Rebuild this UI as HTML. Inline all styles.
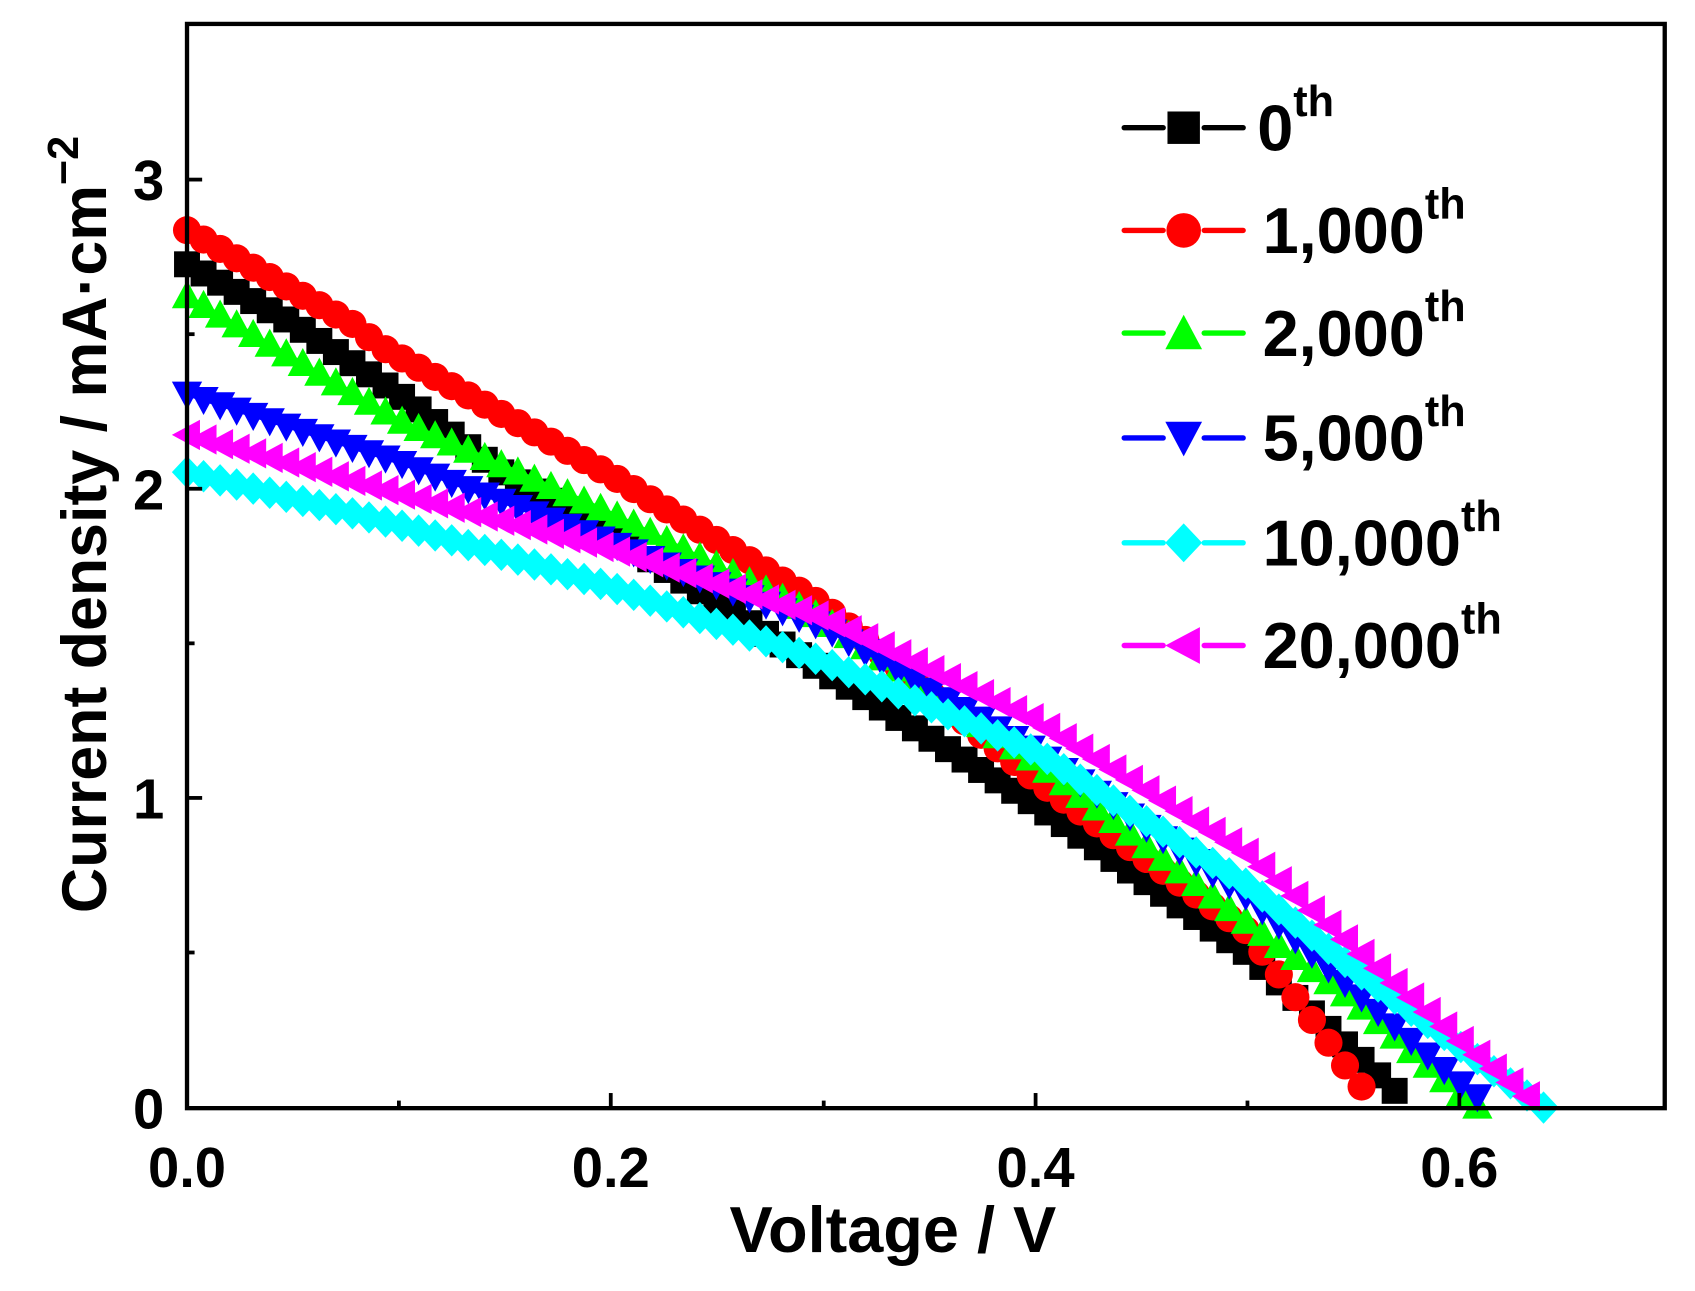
<!DOCTYPE html>
<html><head><meta charset="utf-8"><style>html,body{margin:0;padding:0;background:#fff}svg{display:block}</style></head>
<body>
<svg id="s" width="1695" height="1291" viewBox="0 0 1568 1194" xmlns="http://www.w3.org/2000/svg" font-family="Liberation Sans, Arial, sans-serif" font-weight="bold">
<rect width="1568" height="1194" fill="#fff"/>
<g id="data"></g>
<rect x="173" y="22" width="1367" height="1003" fill="none" stroke="#000" stroke-width="4"/>
<g stroke="#000" stroke-width="3.5">
<line x1="565" y1="1025" x2="565" y2="1011"/><line x1="958" y1="1025" x2="958" y2="1011"/><line x1="1350" y1="1025" x2="1350" y2="1011"/>
<line x1="369" y1="1025" x2="369" y2="1018"/><line x1="762" y1="1025" x2="762" y2="1018"/><line x1="1154" y1="1025" x2="1154" y2="1018"/>
<line x1="173" y1="738" x2="187" y2="738"/><line x1="173" y1="452" x2="187" y2="452"/><line x1="173" y1="166" x2="187" y2="166"/>
<line x1="173" y1="881" x2="180" y2="881"/><line x1="173" y1="595" x2="180" y2="595"/><line x1="173" y1="309" x2="180" y2="309"/>
</g>
<g font-size="52" text-anchor="middle">
<text x="173" y="1098">0.0</text><text x="565" y="1098">0.2</text><text x="958" y="1098">0.4</text><text x="1350" y="1098">0.6</text>
</g>
<g font-size="52" text-anchor="end">
<text x="152" y="1044">0</text><text x="152" y="757">1</text><text x="152" y="471">2</text><text x="152" y="185">3</text>
</g>
<text x="826" y="1158" font-size="60" text-anchor="middle">Voltage / V</text>
<text transform="translate(98,485) rotate(-90)" font-size="58" text-anchor="middle">Current density / mA·cm<tspan font-size="40" dy="-26">−2</tspan></text>
<g id="legend"></g>
</svg>
<script>
var X=v=>173+v*1962, Y=j=>1025-j*287;
var S=[
 {c:'#000',m:'sq',k:[[0,2.72],[0.05,2.53],[0.1,2.3],[0.15,2.04],[0.2,1.85],[0.3,1.41],[0.4,0.98],[0.5,0.5],[0.55,0.18],[0.575,0.02]],e:0.575},
 {c:'#f00',m:'ci',k:[[0,2.83],[0.08,2.52],[0.09,2.46],[0.2,2.04],[0.3,1.62],[0.4,1.06],[0.5,0.57],[0.55,0.1],[0.56,0.02]],e:0.56},
 {c:'#0f0',m:'tu',k:[[0,2.62],[0.1,2.22],[0.2,1.92],[0.3,1.58],[0.4,1.12],[0.5,0.6],[0.55,0.35],[0.6,0.05],[0.61,0.0]],e:0.61},
 {c:'#00f',m:'td',k:[[0,2.3],[0.1,2.08],[0.2,1.82],[0.3,1.55],[0.4,1.15],[0.5,0.68],[0.55,0.38],[0.6,0.08],[0.615,0.0]],e:0.615},
 {c:'#0ff',m:'di',k:[[0,2.05],[0.1,1.88],[0.2,1.68],[0.3,1.44],[0.4,1.15],[0.5,0.72],[0.55,0.45],[0.6,0.2],[0.64,0.0]],e:0.64},
 {c:'#f0f',m:'tl',k:[[0,2.17],[0.1,1.98],[0.2,1.8],[0.3,1.58],[0.4,1.25],[0.5,0.82],[0.55,0.52],[0.6,0.22],[0.635,0.02]],e:0.635}
];
function interp(k,v){for(var i=0;i<k.length-1;i++){if(v<=k[i+1][0]){var t=(v-k[i][0])/(k[i+1][0]-k[i][0]);return k[i][1]+t*(k[i+1][1]-k[i][1]);}}return k[k.length-1][1];}
function mk(m,x,y,c,r){r=r||12;
 if(m=='sq')return `<rect x="${x-r}" y="${y-r}" width="${2*r}" height="${2*r}" fill="${c}"/>`;
 if(m=='ci')return `<circle cx="${x}" cy="${y}" r="${r+1}" fill="${c}"/>`;
 if(m=='tu')return `<polygon points="${x},${y-r-2} ${x-r-2},${y+r} ${x+r+2},${y+r}" fill="${c}"/>`;
 if(m=='td')return `<polygon points="${x},${y+r+2} ${x-r-2},${y-r} ${x+r+2},${y-r}" fill="${c}"/>`;
 if(m=='di')return `<polygon points="${x},${y-r-3} ${x+r+2},${y} ${x},${y+r+3} ${x-r-2},${y}" fill="${c}"/>`;
 if(m=='tl')return `<polygon points="${x-r-2},${y} ${x+r},${y-r-2} ${x+r},${y+r+2}" fill="${c}"/>`;}
var h='';
S.forEach(s=>{var pts=[],mks='';for(var v=0;v<=s.e+1e-6;v+=0.0078){var x=X(v),y=Y(interp(s.k,v));pts.push(x.toFixed(1)+','+y.toFixed(1));mks+=mk(s.m,x,y,s.c);}
 h+=`<polyline points="${pts.join(' ')}" fill="none" stroke="${s.c}" stroke-width="3"/>`+mks;});
document.getElementById('data').innerHTML=h;
var L=['0','1,000','2,000','5,000','10,000','20,000'],ys=[118,213,308,405,502,597],lg='';
S.forEach((s,i)=>{var y=ys[i];
 lg+=`<line x1="1040" y1="${y}" x2="1076" y2="${y}" stroke="${s.c}" stroke-width="5" stroke-linecap="round"/><line x1="1114" y1="${y}" x2="1150" y2="${y}" stroke="${s.c}" stroke-width="5" stroke-linecap="round"/>`+mk(s.m,1095,y,s.c,15);
 lg+=`<text x="${i==0?1163:1168}" y="${y+21}" font-size="60">${L[i]}<tspan font-size="40" dy="-32">th</tspan></text>`;});
document.getElementById('legend').innerHTML=lg;
</script>
</body></html>
